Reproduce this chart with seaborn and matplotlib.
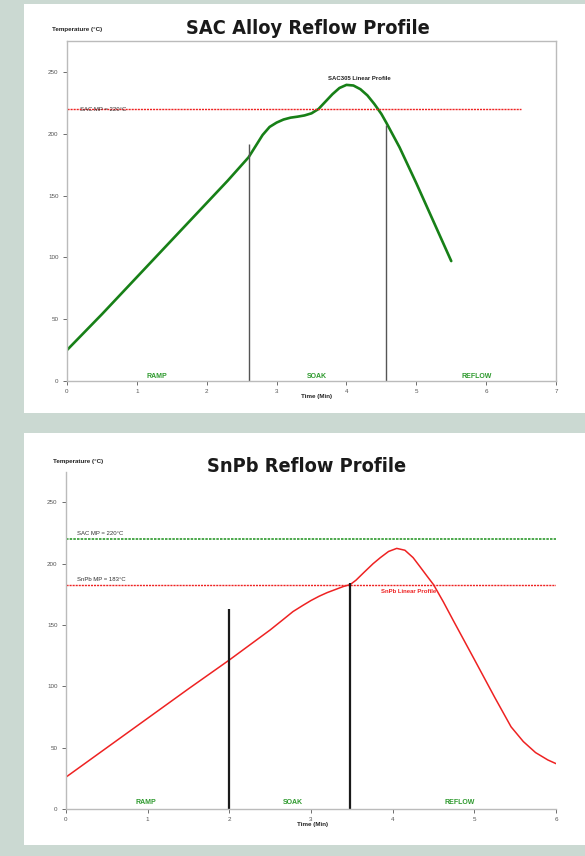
import pandas as pd
import matplotlib.pyplot as plt
import seaborn as sns
from matplotlib.patches import Rectangle

# SAC305 profile
sac_time = [0, 0.5, 1.0, 1.5, 2.0, 2.3, 2.6, 2.7, 2.8, 2.9, 3.0, 3.1, 3.2, 3.3, 3.4, 3.5,
            3.6, 3.7, 3.8, 3.9, 4.0, 4.1, 4.2, 4.3, 4.4, 4.5, 4.57, 4.76, 5.0, 5.5]
sac_temp = [25, 54, 84, 114, 144, 162, 181, 190, 199, 205.5, 209, 211.5, 213, 213.8, 214.8, 216.5,
            220, 226, 232, 237, 239.5, 239, 236, 231, 224, 216, 209, 189, 160, 97]

# SnPb profile
snpb_time = [0, 0.5, 1.0, 1.5, 2.0, 2.5, 2.65, 2.78, 2.9, 3.0, 3.1, 3.2, 3.3, 3.4, 3.48, 3.55,
             3.65, 3.76, 3.85, 3.95, 4.05, 4.15, 4.25, 4.33, 4.42, 4.5, 4.62, 4.74, 5.0,
             5.25, 5.45, 5.6, 5.75, 5.9, 6.0]
snpb_temp = [26, 50, 74, 98, 121.5, 146, 154, 161, 166, 170, 173.5, 176.5, 179, 181.5, 183, 186.5,
             193, 200, 205, 210, 212.5, 211, 205, 198, 190, 183, 169, 154, 122,
             91, 67, 55, 46, 40, 37]

sac_zones = [2.6, 4.57]
sac_zone_tops = [192, 207]
snpb_zones = [2.0, 3.48]
snpb_zone_tops = [163, 184]

zone_names = ["RAMP", "SOAK", "REFLOW"]
sac_zone_pos = [1.29, 3.58, 5.86]
snpb_zone_pos = [0.98, 2.78, 4.82]

sac_mp = 220
snpb_mp = 183

sns.set_style("white")
plt.rcParams["font.family"] = ["Liberation Sans", "DejaVu Sans"]

BG = "#cbd9d2"
GREEN = "#178017"
ZONE_GREEN = "#2e9a2e"
RED = "#ee2222"
TICK = "#555555"
DOTS = (0, (1.5, 0.7))

fig = plt.figure(figsize=(5.85, 8.56), dpi=100)
fig.patch.set_facecolor(BG)
fig.patches.append(Rectangle((24 / 585, 1 - 413 / 856), 561 / 585, 409 / 856,
                             transform=fig.transFigure, facecolor="white", edgecolor="none", zorder=-5))
fig.patches.append(Rectangle((24 / 585, 1 - 845 / 856), 561 / 585, 412 / 856,
                             transform=fig.transFigure, facecolor="white", edgecolor="none", zorder=-5))

ax1 = fig.add_axes([0.1145, 0.5549, 0.836, 0.3972])
ax2 = fig.add_axes([0.1128, 0.0549, 0.8376, 0.394])


def style_axis(ax, xmax, box):
    ax.set_facecolor("white")
    ax.set_xlim(0, xmax)
    ax.set_ylim(0, 275)
    ax.set_xticks(range(0, xmax + 1))
    ax.set_yticks(range(0, 251, 50))
    ax.tick_params(axis="both", labelsize=4.5, colors=TICK, length=3, width=0.6,
                   direction="out", bottom=True, left=True, pad=3)
    for side in ["top", "right", "left", "bottom"]:
        ax.spines[side].set_color("#bbbbbb")
        ax.spines[side].set_linewidth(1.0)
    if not box:
        ax.spines["top"].set_visible(False)
        ax.spines["right"].set_visible(False)
    ax.set_xlabel("")
    ax.set_ylabel("")


title_font = dict(fontsize=14.3, fontweight="bold", family=["DejaVu Sans"], fontstretch="condensed",
                  color="#1a1a1a", ha="center", va="center")

# ---------- top: SAC alloy ----------
df_sac = pd.DataFrame({"Time": sac_time, "Temp": sac_temp})
sns.lineplot(data=df_sac, x="Time", y="Temp", ax=ax1, color=GREEN, linewidth=1.9, sort=False)
style_axis(ax1, 7, True)
ax1.hlines(sac_mp, 0, 6.5, colors=RED, linestyles=DOTS, linewidth=1.0)
ax1.text(0.19, sac_mp, "SAC MP = 220°C", fontsize=4.3, color="#333333", va="center", ha="left")
ax1.vlines(sac_zones, 0, sac_zone_tops, colors="#555555", linewidth=1.0)
ax1.text(4.19, 245, "SAC305 Linear Profile", fontsize=4.3, fontweight="bold", color="#222222",
         ha="center", va="center")
for name, pos in zip(zone_names, sac_zone_pos):
    ax1.text(pos, 4, name, fontsize=5, fontweight="bold", color=ZONE_GREEN, ha="center", va="center")
ax1.text(3.57, -12.5, "Time (Min)", fontsize=4.5, fontweight="bold", color="#222222",
         ha="center", va="center")
fig.text(52 / 585, 1 - 30 / 856, "Temperature (°C)", fontsize=4.5, fontweight="bold",
         color="#222222", ha="left", va="center")
fig.text(308 / 585, 1 - 28 / 856, "SAC Alloy Reflow Profile", **title_font)

# ---------- bottom: SnPb ----------
df_snpb = pd.DataFrame({"Time": snpb_time, "Temp": snpb_temp})
sns.lineplot(data=df_snpb, x="Time", y="Temp", ax=ax2, color=RED, linewidth=1.1, sort=False)
style_axis(ax2, 6, False)
ax2.hlines(sac_mp, 0, 6, colors="#2e9a2e", linestyles=DOTS, linewidth=1.2)
ax2.hlines(snpb_mp, 0, 6, colors=RED, linestyles=DOTS, linewidth=1.0)
ax2.text(0.13, sac_mp + 2.5, "SAC MP = 220°C", fontsize=4.3, color="#333333", va="bottom", ha="left")
ax2.text(0.13, snpb_mp + 2.5, "SnPb MP = 183°C", fontsize=4.3, color="#333333", va="bottom", ha="left")
ax2.vlines(snpb_zones, 0, snpb_zone_tops, colors="#1a1a1a", linewidth=1.6)
ax2.text(4.19, 177, "SnPb Linear Profile", fontsize=4.3, fontweight="bold", color=RED,
         ha="center", va="center")
for name, pos in zip(zone_names, snpb_zone_pos):
    ax2.text(pos, 5, name, fontsize=5, fontweight="bold", color=ZONE_GREEN, ha="center", va="center")
ax2.text(3.02, -13, "Time (Min)", fontsize=4.5, fontweight="bold", color="#222222",
         ha="center", va="center")
fig.text(53 / 585, 1 - 462 / 856, "Temperature (°C)", fontsize=4.5, fontweight="bold",
         color="#222222", ha="left", va="center")
fig.text(307 / 585, 1 - 466 / 856, "SnPb Reflow Profile", **title_font)

fig.savefig("out.png", dpi=100, facecolor=BG)
